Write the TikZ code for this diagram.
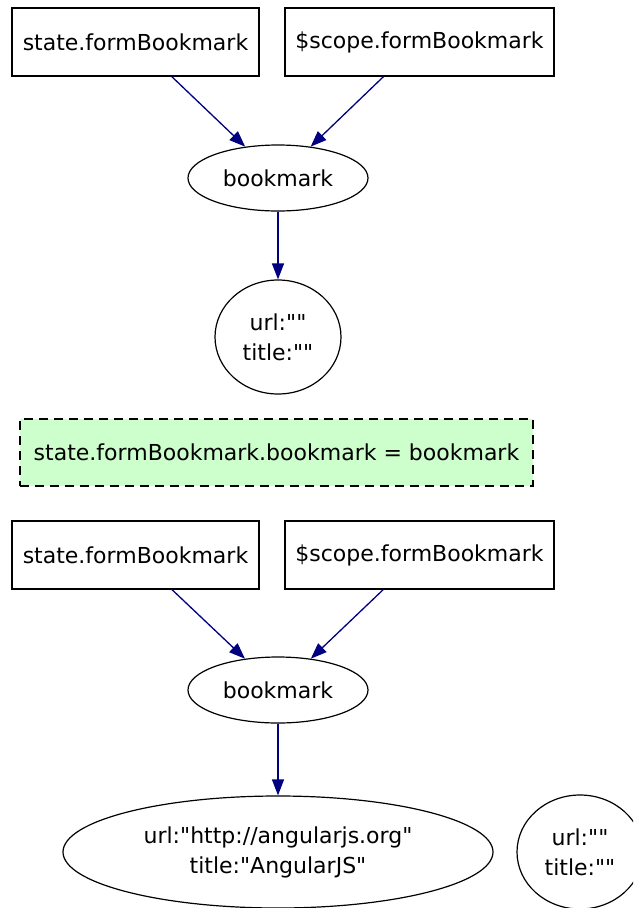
\documentclass[tikz,border=0pt]{standalone}
\usepackage{fontspec}
\newfontfamily\diagfont{DejaVu Sans}
\usepackage{tikz}
\usetikzlibrary{shapes.geometric}
\usetikzlibrary{arrows.meta}
\definecolor{edgenavy}{RGB}{0,0,128}
\definecolor{assigngreen}{RGB}{204,255,204}

\begin{document}
\begin{tikzpicture}[x=1pt,y=-1pt,
    every node/.style={font=\diagfont\fontsize{22}{30}\selectfont, inner sep=0pt},
    refbox/.style={draw, line width=1.2pt, minimum height=68pt},
    objnode/.style={draw, ellipse, line width=1.2pt, align=center},
    stmt/.style={draw, dashed, dash pattern=on 9pt off 6pt, line width=1.2pt,
        fill=assigngreen, minimum width=513pt, minimum height=67pt},
    ref/.style={edgenavy, line width=1.3pt, -{Triangle[length=16pt,width=12pt]}},
]
    % Define canvas
    \clip (0,0) rectangle (633,908);

    % Before the assignment
    \node[refbox, minimum width=247pt] (state1) at (135.5,42) {state.formBookmark};
    \node[refbox, minimum width=269pt] (scope1) at (419.5,42) {\$scope.formBookmark};
    \node[objnode, minimum width=180pt, minimum height=66pt] (bookmark1) at (278,178) {bookmark};
    \node[objnode, minimum width=126pt, minimum height=114pt] (empty1) at (278,337) {url:""\\title:""};

    \draw[ref] (state1) -- (bookmark1);
    \draw[ref] (scope1) -- (bookmark1);
    \draw[ref] (bookmark1) -- (empty1);

    % The statement
    \node[stmt] (assign) at (276.5,452.5) {state.formBookmark.bookmark = bookmark};

    % After the assignment
    \node[refbox, minimum width=247pt] (state2) at (135.5,555) {state.formBookmark};
    \node[refbox, minimum width=269pt] (scope2) at (419.5,555) {\$scope.formBookmark};
    \node[objnode, minimum width=180pt, minimum height=66pt] (bookmark2) at (278,690) {bookmark};
    \node[objnode, minimum width=430pt, minimum height=112pt] (angular) at (278,852) {url:"http://angularjs.org"\\title:"AngularJS"};
    \node[objnode, minimum width=126pt, minimum height=114pt] (empty2) at (580,852) {url:""\\title:""};

    \draw[ref] (state2) -- (bookmark2);
    \draw[ref] (scope2) -- (bookmark2);
    \draw[ref] (bookmark2) -- (angular);
\end{tikzpicture}
\end{document}
